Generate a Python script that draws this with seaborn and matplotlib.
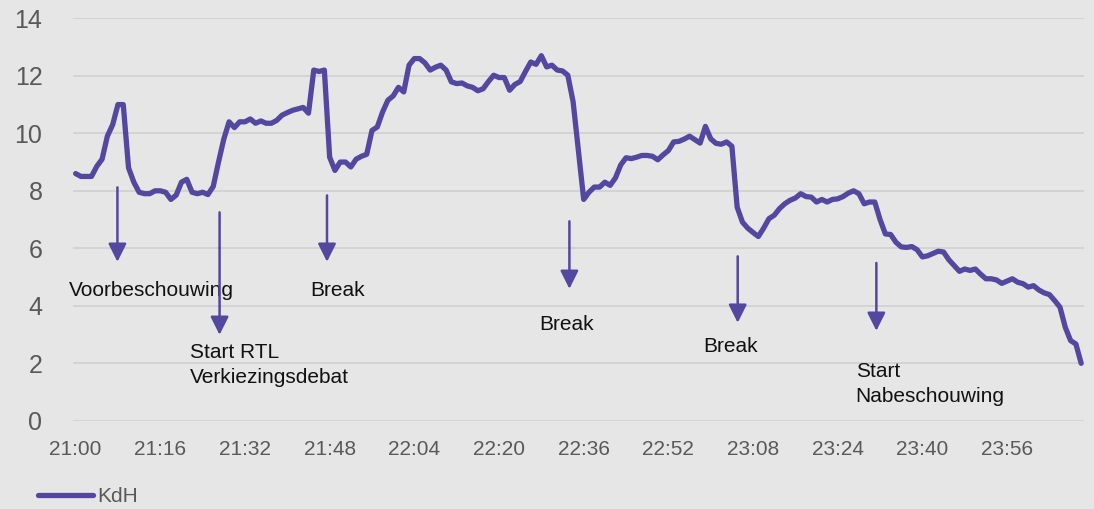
import numpy as np
import pandas as pd
import matplotlib
matplotlib.use('Agg')
import matplotlib.pyplot as plt
import seaborn as sns

# kijkcijfers per minuut, 21:00 t/m 00:10 (x 100.000)
kdh = [8.6, 8.5, 8.5, 8.5, 8.85, 9.1, 9.9, 10.3, 11.0, 11.0,
       8.8, 8.3, 7.95, 7.9, 7.9, 8.0, 8.0, 7.95, 7.7, 7.85,
       8.3, 8.4, 7.95, 7.9, 7.95, 7.87, 8.15, 9.0, 9.8, 10.4,
       10.2, 10.4, 10.4, 10.5, 10.35, 10.43, 10.35, 10.35, 10.45, 10.63,
       10.72, 10.8, 10.85, 10.9, 10.7, 12.2, 12.15, 12.2, 9.17, 8.71,
       9.0, 9.0, 8.83, 9.1, 9.2, 9.27, 10.1, 10.22, 10.74, 11.15,
       11.3, 11.6, 11.44, 12.37, 12.6, 12.6, 12.45, 12.2, 12.3, 12.37,
       12.2, 11.79, 11.73, 11.75, 11.65, 11.6, 11.48, 11.55, 11.8, 12.02,
       11.94, 11.94, 11.5, 11.7, 11.8, 12.15, 12.48, 12.4, 12.7, 12.31,
       12.37, 12.2, 12.17, 12.02, 11.1, 9.4, 7.7, 7.95, 8.13, 8.13,
       8.3, 8.19, 8.45, 8.9, 9.15, 9.12, 9.17, 9.23, 9.23, 9.2,
       9.08, 9.25, 9.4, 9.7, 9.72, 9.8, 9.9, 9.78, 9.66, 10.24,
       9.81, 9.65, 9.62, 9.7, 9.55, 7.43, 6.91, 6.7, 6.55, 6.41,
       6.7, 7.03, 7.15, 7.38, 7.55, 7.67, 7.75, 7.9, 7.8, 7.78,
       7.61, 7.7, 7.61, 7.7, 7.72, 7.8, 7.92, 8.0, 7.9, 7.55,
       7.61, 7.61, 7.0, 6.5, 6.48, 6.21, 6.05, 6.03, 6.06, 5.95,
       5.7, 5.74, 5.82, 5.9, 5.87, 5.6, 5.4, 5.2, 5.28, 5.23,
       5.28, 5.1, 4.94, 4.94, 4.9, 4.78, 4.86, 4.94, 4.82, 4.77,
       4.65, 4.7, 4.55, 4.45, 4.39, 4.18, 3.95, 3.25, 2.79, 2.67,
       2.0]

tijd_labels = ['21:00', '21:16', '21:32', '21:48', '22:04', '22:20',
               '22:36', '22:52', '23:08', '23:24', '23:40', '23:56']
y_ticks = [0, 2, 4, 6, 8, 10, 12, 14]

# annotaties: tekst, pijl x (minuut), pijl begin, pijl eind, tekst x, tekst y (basislijn)
ann_tekst = ['Voorbeschouwing', 'Start RTL\nVerkiezingsdebat', 'Break', 'Break', 'Break',
             'Start\nNabeschouwing']
ann_x = [7.9, 27.2, 47.5, 93.3, 125.1, 151.3]
ann_top = [8.12, 7.25, 7.84, 6.94, 5.72, 5.49]
ann_tip = [5.53, 2.99, 5.53, 4.59, 3.41, 3.13]
ann_tx = [-1.2, 21.6, 44.3, 87.6, 118.6, 147.4]
ann_ty = [4.35, 2.19, 4.35, 3.16, 2.40, 1.53]

paars = '#5447a0'
grijs = '#595959'

sns.set_style('white')
plt.rcParams['font.family'] = ['Liberation Sans', 'DejaVu Sans']

df = pd.DataFrame({'minuut': np.arange(len(kdh)), 'KdH': kdh})

fig = plt.figure(figsize=(10.94, 5.09), dpi=100, facecolor='#e6e6e6')
ax = fig.add_axes([0.0667, 0.1733, 0.924, 0.7907])
ax.set_facecolor('#e6e6e6')

sns.lineplot(data=df, x='minuut', y='KdH', color=paars, linewidth=3.8, label='KdH', ax=ax)

ax.set_xlim(-0.5, len(kdh) - 0.5)
ax.set_ylim(0, 14)
ax.set_xticks(np.arange(len(tijd_labels)) * 16)
ax.set_xticklabels(tijd_labels)
ax.set_yticks(y_ticks)
ax.tick_params(axis='x', labelsize=15, colors=grijs, length=0, pad=14)
ax.tick_params(axis='y', labelsize=18, colors=grijs, length=0, pad=22)
ax.grid(axis='y', color='#d2d2d2', linewidth=1.3)
ax.grid(axis='x', visible=False)
ax.set_xlabel('')
ax.set_ylabel('')
for s in ax.spines.values():
    s.set_visible(False)

for t, x, y0, y1, tx, ty in zip(ann_tekst, ann_x, ann_top, ann_tip, ann_tx, ann_ty):
    ax.annotate('', xy=(x, y1), xytext=(x, y0),
                arrowprops=dict(arrowstyle='-|>,head_length=1.1,head_width=0.55',
                                color=paars, lw=1.8, shrinkA=0, shrinkB=0))
    for i, regel in enumerate(t.split('\n')):
        ax.text(tx, ty - i * 0.88, regel, fontsize=15, color='#111111', va='baseline', ha='left')

ax.legend(loc='center left', bbox_to_anchor=(38 / 1094, 12 / 509), bbox_transform=fig.transFigure,
          frameon=False, fontsize=15, handlelength=2.65, handletextpad=0.2,
          borderpad=0, borderaxespad=0, labelcolor=grijs)

plt.savefig('out.png', dpi=100, facecolor=fig.get_facecolor())
